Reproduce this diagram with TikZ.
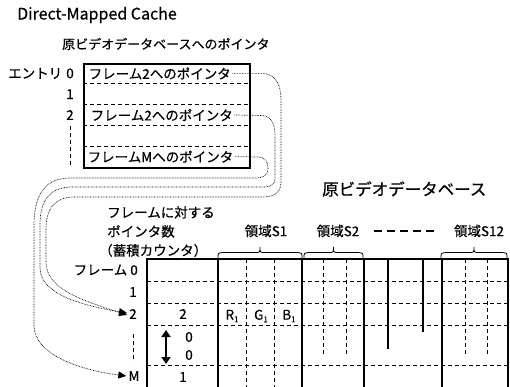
\documentclass[tikz,border=0pt]{standalone}
\usepackage{fontspec}
\setmainfont{Noto Sans CJK JP}[FakeBold=0.5]
\usetikzlibrary{arrows.meta}
\newcommand\fsz[1]{\fontsize{#1}{#1}\selectfont}
\begin{document}
\begin{tikzpicture}[x=1pt,y=-1pt,
  txt/.style={inner sep=0pt, font=\fsz{13.5}},
  rowtxt/.style={inner sep=1.5pt, font=\fsz{13.5}, anchor=west},
  frameline/.style={line width=1.8pt},
  gridd/.style={line width=0.8pt, dash pattern=on 4pt off 3pt},
  solidv/.style={line width=1.1pt},
  ptr/.style={line width=0.7pt, dash pattern=on 0.7pt off 0.9pt, -{Triangle[length=8pt,width=7pt]}},
  brc/.style={line width=0.8pt}
]
\useasboundingbox (0,0) rectangle (510,387);

% ---------- top: cache ----------
\node[txt, anchor=west, font=\fsz{16}] (title) at (17,15) {Direct-Mapped Cache};
\node[txt, anchor=west, font=\fsz{13}] (hdr) at (62,44) {原ビデオデータベースへのポインタ};

\node[draw, frameline, minimum width=166pt, minimum height=104pt, anchor=north west, inner sep=0pt] (cache) at (83,63) {};
\foreach \y in {83.8,104.6,125.4,146.2} \draw[gridd] (83,\y) -- (249,\y);

\node[rowtxt] (e0) at (87,73.4) {フレーム2へのポインタ};
\node[rowtxt] (e2) at (89,115) {フレーム2へのポインタ};
\node[rowtxt] (eM) at (86,156.6) {フレームMへのポインタ};

\node[txt, anchor=west] (entry) at (8,73.4) {エントリ};
\node[txt] (i0) at (70,73.4) {0};
\node[txt] (i1) at (70,94.2) {1};
\node[txt] (i2) at (70,115) {2};
\draw[gridd] (70,126) -- (70,165);

% ---------- bottom: database ----------
\node[txt, anchor=west, font=\fsz{16.5}] (db) at (322,189) {原ビデオデータベース};
\node[txt, anchor=north west, align=left, font={\fontsize{13.5}{19}\selectfont}] (cnt) at (107,206) {フレームに対する\\ポインタ数\\\hspace*{-8pt}（蓄積カウンタ）};

\node[txt] (s1) at (266,231) {領域S1};
\node[txt] (s2) at (338,231) {領域S2};
\node[txt] (s12) at (479,231) {領域S12};
\draw[line width=2.2pt, dash pattern=on 8pt off 5pt] (374,231) -- (436,231);

\foreach \a/\b in {218/302,304/363,441/507}{
  \pgfmathsetmacro\m{(\a+\b)/2}
  \draw[brc] (\a,258) .. controls (\a,253) .. (\a+5,252.5) -- (\m-5,252.5)
     .. controls (\m,252.5) .. (\m,247) .. controls (\m,252.5) .. (\m+5,252.5)
     -- (\b-5,252.5) .. controls (\b,253) .. (\b,258);
}

% table
\foreach \y in {281,303,325,365} \draw[gridd] (147,\y) -- (508,\y);
\foreach \x in {246,274} \draw[gridd] (\x,259) -- (\x,387);
\foreach \x in {323,346} \draw[gridd] (\x,259) -- (\x,354);
\foreach \x in {465,487} \draw[gridd] (\x,259) -- (\x,355);
\foreach \x in {302,364,442} \draw[solidv] (\x,259) -- (\x,387);
\draw[solidv] (388,259) -- (388,349);
\draw[solidv] (423,259) -- (423,332);
\draw[frameline] (147,388) -- (147,259) -- (508,259) -- (508,388);
\draw[frameline] (218,259) -- (218,388);

\node[txt, anchor=east] (f0) at (138,270) {フレーム 0};
\node[txt] (f1) at (133,292) {1};
\node[txt] (f2) at (133,314) {2};
\node[txt] (fM) at (134,376) {M};
\draw[gridd] (133,334) -- (133,362);

\node[txt] (c2) at (183,314) {2};
\node[txt] (c0a) at (189,337) {0};
\node[txt] (c0b) at (189,355) {0};
\node[txt] (c1) at (183,377) {1};
\draw[line width=2.6pt, {Triangle[length=7pt,width=9pt]}-{Triangle[length=7pt,width=9pt]}] (166,330) -- (166,364);

\node[txt] (r1) at (232,316) {R\raisebox{-2.5pt}{\fsz{8}1}};
\node[txt] (g1) at (261,316) {G\raisebox{-2.5pt}{\fsz{8}1}};
\node[txt] (b1) at (289,316) {B\raisebox{-2.5pt}{\fsz{8}1}};

% ---------- pointer curves ----------
\draw[ptr] (e0.east) -- (262,73.4) .. controls (276,74) and (281,85) .. (281,100) -- (281,182)
  .. controls (281,193) and (274,197) .. (262,197) -- (75,197)
  .. controls (55,197) and (46,208) .. (46,230) -- (46,262)
  .. controls (46,290) and (85,301) .. ([xshift=-2pt,yshift=-1pt]f2.west);
\draw[ptr] (e2.east) -- (262,115.5) .. controls (271,116) and (275,124) .. (275,135) -- (275,179)
  .. controls (275,184) and (271,187) .. (264,187) -- (72,187)
  .. controls (50,187) and (40,200) .. (40,225) -- (40,268)
  .. controls (40,295) and (85,306) .. ([xshift=-2pt,yshift=1pt]f2.west);
\draw[ptr] (eM.east) -- (258,157) .. controls (265,157) and (268,162) .. (268,168)
  .. controls (268,175) and (264,178) .. (255,178) -- (70,178)
  .. controls (45,178) and (34,195) .. (34,225) -- (34,325)
  .. controls (34,355) and (80,370) .. ([xshift=-2pt]fM.west);
\end{tikzpicture}
\end{document}
